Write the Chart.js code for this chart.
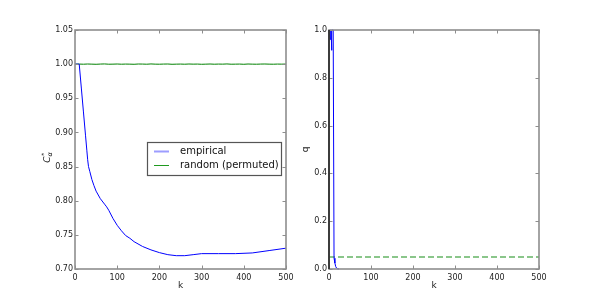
<!DOCTYPE html>
<html><head><meta charset="utf-8">
<script src="https://cdn.jsdelivr.net/npm/chart.js@4/dist/chart.umd.min.js"></script>
<style>html,body{margin:0;padding:0;background:#fff;}#wrap{position:relative;width:600px;height:300px;}canvas{position:absolute;top:0;}</style>
</head><body><div id="wrap"><canvas id="c1" width="300" height="300" style="left:0"></canvas><canvas id="c2" width="300" height="300" style="left:300px"></canvas></div>
<script>
// ---- data ----
const kEmpirical = [0,5,10,15,20,25,28,30,32,35,40,45,50,60,70,75,80,90,100,110,120,130,140,160,180,200,220,240,260,280,300,340,380,420,460,500];
const cEmpirical = [1.0,1.0,1.0,0.965,0.93,0.895,0.874,0.86,0.85,0.843,0.831,0.822,0.814,0.803,0.795,0.791,0.786,0.774,0.764,0.756,0.749,0.745,0.740,0.733,0.728,0.724,0.721,0.7195,0.7195,0.721,0.7225,0.7225,0.7225,0.7235,0.727,0.7305];
const kRandom = [0,10,20,30,40,50,60,70,80,90,100,110,120,130,140,150,160,170,180,190,200,210,220,230,240,250,260,270,280,290,300,310,320,330,340,350,360,370,380,390,400,410,420,430,440,450,460,470,480,490,500];
const cRandom = [1.0000,1.0001,0.9999,1.0002,1.0000,0.9998,1.0001,1.0003,0.9999,1.0000,1.0002,0.9999,1.0001,1.0000,0.9998,1.0002,1.0001,0.9999,1.0003,1.0000,0.9999,1.0001,1.0002,0.9998,1.0000,1.0001,0.9999,1.0002,1.0000,1.0001,0.9998,1.0000,1.0002,0.9999,1.0001,1.0000,1.0003,0.9999,1.0000,1.0001,0.9998,1.0002,1.0000,0.9999,1.0001,1.0002,1.0000,0.9999,1.0001,1.0000,1.0001];
const kQ = [0,1,2,3,4,5,6,7,8,9,10,11,12,14,16,18,20,24];
const qValues = [1,1,1,0.96,1,1,0.915,1,1,1,1,1,0.045,0.025,0.01,0.004,0.001,0];
const kAlpha = [0,500];
const alphaValues = [0.05,0.05];
const xTicks = [0,100,200,300,400,500];
const leftYTicks = [0.70,0.75,0.80,0.85,0.90,0.95,1.00,1.05];
const rightYTicks = [0.0,0.2,0.4,0.6,0.8,1.0];
const seriesLabels = ['empirical','random (permuted)'];

const pts = (xs, ys) => xs.map((x,i)=>({x, y: ys[i]}));
const FONT = "'DejaVu Sans', sans-serif";
const FRAME = '#8e8e8e';

const framePlugin = {
  id: 'frame',
  afterDatasetsDraw(chart, args, opts) {
    const {ctx, chartArea: a, scales: {x, y}} = chart;
    ctx.save();
    ctx.strokeStyle = FRAME;
    ctx.lineWidth = 1;
    const L = 3.5;
    ctx.beginPath();
    x.ticks.forEach(t => { const p = Math.round(x.getPixelForValue(t.value)) + 0.5;
      ctx.moveTo(p, a.bottom); ctx.lineTo(p, a.bottom - L);
      ctx.moveTo(p, a.top); ctx.lineTo(p, a.top + L); });
    y.ticks.forEach(t => { const p = Math.round(y.getPixelForValue(t.value)) + 0.5;
      ctx.moveTo(a.left, p); ctx.lineTo(a.left + L, p);
      ctx.moveTo(a.right, p); ctx.lineTo(a.right - L, p); });
    ctx.stroke();
    ctx.lineWidth = 1.6;
    ctx.strokeRect(a.left, a.top, a.right - a.left, a.bottom - a.top);
    if (opts.leftColor) {
      ctx.strokeStyle = opts.leftColor;
      ctx.beginPath(); ctx.moveTo(a.left, a.top); ctx.lineTo(a.left, a.bottom); ctx.stroke();
    }
    ctx.restore();
  }
};

const legendPlugin = {
  id: 'boxLegend',
  afterDraw(chart, args, opts) {
    if (!opts.show) return;
    const {ctx} = chart;
    ctx.save();
    ctx.fillStyle = '#fff';
    ctx.strokeStyle = '#555';
    ctx.lineWidth = 1.2;
    ctx.fillRect(147.5, 142.5, 134, 33);
    ctx.strokeRect(147.5, 142.5, 134, 33);
    const ds = chart.data.datasets;
    const rows = [151.5, 165.5];
    const sample = ['rgba(60,60,255,0.5)', '#1f9a1f'];
    ds.forEach((d, i) => {
      ctx.strokeStyle = sample[i];
      ctx.lineWidth = i === 0 ? 2 : 1;
      ctx.beginPath(); ctx.moveTo(154, rows[i]); ctx.lineTo(169, rows[i]); ctx.stroke();
      ctx.fillStyle = '#111';
      ctx.font = '10px ' + FONT;
      ctx.textBaseline = 'middle';
      ctx.fillText(d.label, 180, rows[i]);
    });
    ctx.restore();
  }
};

const yMathTitle = {
  id: 'yMathTitle',
  afterDraw(chart, args, opts) {
    if (!opts.show) return;
    const {ctx} = chart;
    ctx.save();
    ctx.translate(50, 157);
    ctx.rotate(-Math.PI / 2);
    ctx.fillStyle = '#222';
    ctx.textBaseline = 'alphabetic';
    ctx.font = 'italic 9px ' + FONT;
    const wC = ctx.measureText('C').width;
    ctx.font = 'italic 6.5px ' + FONT;
    const wA = ctx.measureText('α').width;
    const total = wC + wA + 1;
    let x0 = -total / 2;
    ctx.font = 'italic 9px ' + FONT;
    ctx.fillText('C', x0, 0);
    ctx.font = 'italic 6.5px ' + FONT;
    ctx.fillText('α', x0 + wC, 2);
    ctx.font = '6.5px ' + FONT;
    ctx.fillText('*', x0 + wC + 0.5, -4.5);
    ctx.restore();
  }
};

function makeChart(id, datasets, yTicks, yMin, yMax, yFmt, geom, extra) {
  return new Chart(document.getElementById(id), {
    type: 'line',
    data: { datasets },
    plugins: [framePlugin, legendPlugin, yMathTitle],
    options: {
      responsive: false,
      animation: false,
      devicePixelRatio: 1,
      layout: { padding: { top: geom.top, right: geom.right, left: 0, bottom: 0 } },
      elements: { point: { radius: 0 }, line: { tension: 0 } },
      plugins: {
        legend: { display: false }, tooltip: { enabled: false },
        frame: { leftColor: extra.leftColor },
        boxLegend: { show: extra.legend },
        yMathTitle: { show: extra.mathTitle }
      },
      scales: {
        x: {
          type: 'linear', min: 0, max: 500,
          afterBuildTicks: s => { s.ticks = xTicks.map(v => ({value: v})); },
          afterFit: s => { s.height = geom.xH; },
          grid: { display: false, drawTicks: false },
          border: { display: false },
          ticks: { font: { family: FONT, size: 8 }, color: '#222', padding: 4, maxRotation: 0 },
          title: { display: true, text: 'k', font: { family: FONT, size: 9 }, color: '#222', padding: { top: 0, bottom: 8.5 } }
        },
        y: {
          type: 'linear', min: yMin, max: yMax,
          afterBuildTicks: s => { s.ticks = yTicks.map(v => ({value: v})); },
          afterFit: s => { s.width = geom.yW; },
          grid: { display: false, drawTicks: false },
          border: { display: false },
          ticks: { font: { family: FONT, size: 8 }, color: '#222', padding: 2, callback: yFmt },
          title: { display: extra.yTitle != null, text: extra.yTitle || '', font: { family: FONT, size: 9 }, color: '#222', padding: { top: 0, bottom: 0 } }
        }
      }
    }
  });
}

makeChart('c1', [
  { label: seriesLabels[0], data: pts(kEmpirical, cEmpirical), borderColor: '#0000ff', borderWidth: 1, clip: 2 },
  { label: seriesLabels[1], data: pts(kRandom, cRandom), borderColor: '#008000', borderWidth: 1, clip: 2 }
], leftYTicks, 0.70, 1.05, v => Number(v).toFixed(2),
  { top: 30, right: 14, yW: 75, xH: 31 }, { legend: true, mathTitle: true, yTitle: null });

makeChart('c2', [
  { label: 'q', data: pts(kQ, qValues), borderColor: '#0000ff', borderWidth: 1, clip: 2 },
  { label: 'alpha', data: pts(kAlpha, alphaValues), borderColor: 'rgba(60,160,60,0.6)', borderWidth: 2, borderDash: [6, 3] }
], rightYTicks, 0, 1, v => Number(v).toFixed(1),
  { top: 30, right: 61, yW: 29, xH: 31 }, { legend: false, mathTitle: false, yTitle: 'q', leftColor: '#222' });
</script>
</body></html>
